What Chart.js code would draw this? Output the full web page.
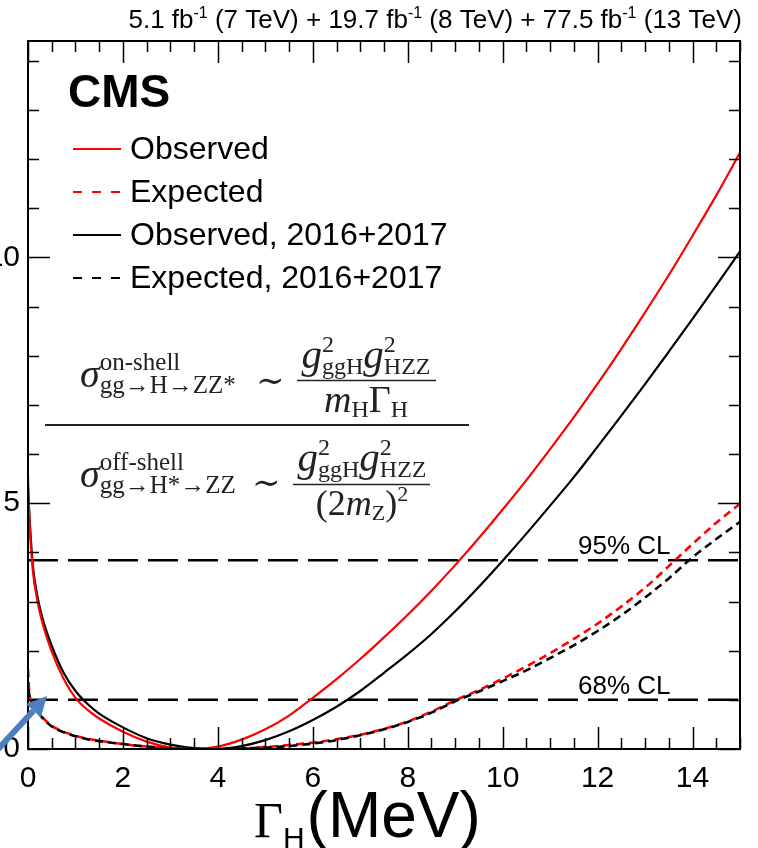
<!DOCTYPE html>
<html>
<head>
<meta charset="utf-8">
<script src="https://cdn.jsdelivr.net/npm/chart.js@4.4.1/dist/chart.umd.min.js"></script>
<style>
  html, body { margin: 0; padding: 0; background: #fff; overflow: hidden; }
  canvas { display: block; }
</style>
</head>
<body>
<canvas id="scan" width="758" height="848"></canvas>
<script>
// Higgs width scan: -2 delta lnL versus Gamma_H (MeV)
const GAMMA = [0, 0.03, 0.1, 0.2, 0.3, 0.5, 0.75, 1, 1.25, 1.5,
               2, 2.5, 3, 3.5, 4, 4.5, 5, 5.5, 6, 6.5,
               7, 7.5, 8, 8.5, 9, 9.5, 10, 10.5, 11, 11.5,
               12, 12.5, 13, 13.5, 14, 14.5, 15];

const OBSERVED = [5.55, 4.65, 3.65, 3.0, 2.58, 1.98, 1.43, 1.04, 0.80, 0.62,
                  0.35, 0.15, 0.03, 0.0, 0.05, 0.19, 0.40, 0.68, 1.04, 1.42,
                  1.83, 2.27, 2.73, 3.22, 3.74, 4.29, 4.87, 5.47, 6.10, 6.75,
                  7.43, 8.14, 8.88, 9.64, 10.44, 11.26, 12.13];

const EXPECTED = [1.62, 1.12, 0.93, 0.77, 0.65, 0.47, 0.35, 0.27, 0.21, 0.17,
                  0.10, 0.05, 0.02, 0.0, 0.0, 0.01, 0.04, 0.08, 0.13, 0.20,
                  0.29, 0.41, 0.56, 0.76, 0.99, 1.20, 1.43, 1.68, 1.95, 2.24,
                  2.55, 2.90, 3.28, 3.72, 4.17, 4.60, 4.99];

const OBSERVED_1617 = [5.3, 4.75, 3.75, 3.1, 2.68, 2.1, 1.55, 1.18, 0.92, 0.72,
                       0.44, 0.22, 0.09, 0.02, 0.005, 0.06, 0.18, 0.36, 0.59, 0.86,
                       1.18, 1.55, 1.93, 2.34, 2.80, 3.30, 3.83, 4.38, 4.95, 5.53,
                       6.15, 6.78, 7.42, 8.08, 8.75, 9.43, 10.12];

const EXPECTED_1617 = [1.35, 1.08, 0.91, 0.76, 0.64, 0.46, 0.34, 0.26, 0.20, 0.16,
                       0.10, 0.05, 0.02, 0.0, 0.0, 0.01, 0.03, 0.06, 0.11, 0.18,
                       0.28, 0.40, 0.55, 0.74, 0.97, 1.17, 1.38, 1.60, 1.85, 2.11,
                       2.40, 2.72, 3.08, 3.47, 3.90, 4.27, 4.62];

const CL_LEVELS = [1.0, 3.84];
const CL_LABELS = ['68% CL', '95% CL'];

const X_TICKS = [0, 2, 4, 6, 8, 10, 12, 14];
const Y_TICKS = [0, 5, 10];
const X_RANGE = [0, 15];
const Y_RANGE = [0, 14.4];

const SANS = '"Liberation Sans", Arial, Helvetica, sans-serif';
const SERIF = '"Liberation Serif", "Times New Roman", "DejaVu Serif", serif';

const pts = ys => GAMMA.map((g, i) => ({ x: g, y: ys[i] }));
const hline = v => [{ x: X_RANGE[0], y: v }, { x: X_RANGE[1], y: v }];

// ---- small rich-text helper (sub/superscripts) ----
function partWidth(ctx, p) {
  ctx.font = p.font;
  if (p.stack) {
    return Math.max(ctx.measureText(p.sup || '').width, ctx.measureText(p.sub || '').width) + (p.gap || 0);
  }
  return ctx.measureText(p.t).width + (p.gap || 0);
}
function richWidth(ctx, parts) {
  return parts.reduce((w, p) => w + partWidth(ctx, p), 0);
}
function drawRich(ctx, x, y, parts) {
  ctx.textAlign = 'left';
  ctx.textBaseline = 'alphabetic';
  for (const p of parts) {
    ctx.font = p.font;
    if (p.stack) {
      if (p.sup) ctx.fillText(p.sup, x, y + p.supDy);
      if (p.sub) ctx.fillText(p.sub, x, y + p.subDy);
    } else {
      ctx.fillText(p.t, x, y + (p.dy || 0));
    }
    x += partWidth(ctx, p);
  }
}

// ---- frame with inward ticks on all four sides ----
const frameTicks = {
  id: 'frameTicks',
  afterDatasetsDraw(chart) {
    const { ctx, chartArea: a, scales: { x, y } } = chart;
    ctx.save();
    ctx.strokeStyle = '#000';
    ctx.lineWidth = 1.5;
    ctx.beginPath();
    for (let k = 0; k <= 30; k++) {
      const v = k * 0.5;
      const px = Math.round(x.getPixelForValue(v)) + 0.5;
      const len = (k % 4 === 0) ? 22 : 11;
      ctx.moveTo(px, a.bottom); ctx.lineTo(px, a.bottom - len);
      ctx.moveTo(px, a.top); ctx.lineTo(px, a.top + len);
    }
    for (let v = 0; v <= 14; v++) {
      const py = Math.round(y.getPixelForValue(v)) + 0.5;
      const len = (v % 5 === 0) ? 22 : 11;
      ctx.moveTo(a.left, py); ctx.lineTo(a.left + len, py);
      ctx.moveTo(a.right, py); ctx.lineTo(a.right - len, py);
    }
    ctx.stroke();
    ctx.lineWidth = 2;
    ctx.strokeRect(a.left, a.top, a.right - a.left, a.bottom - a.top);
    ctx.restore();
  }
};

// ---- texts: CMS tag, luminosity, legend, CL labels, formula, axis title ----
const annotations = {
  id: 'annotations',
  afterDraw(chart) {
    const { ctx, scales: { y } } = chart;
    ctx.save();
    ctx.fillStyle = '#000';

    // luminosity line
    const lumi = [];
    const seg = (t) => lumi.push({ t, font: `26px ${SANS}` });
    const sup = (t) => lumi.push({ t, font: `16px ${SANS}`, dy: -10 });
    seg('5.1 fb'); sup('-1'); seg(' (7 TeV) + 19.7 fb'); sup('-1');
    seg(' (8 TeV) + 77.5 fb'); sup('-1'); seg(' (13 TeV)');
    drawRich(ctx, 742 - richWidth(ctx, lumi), 28, lumi);

    // CMS
    ctx.font = `bold 46px ${SANS}`;
    ctx.textAlign = 'left';
    ctx.textBaseline = 'alphabetic';
    ctx.fillText('CMS', 68, 107);

    // legend
    const rows = [149, 192, 235, 278];
    chart.data.datasets.slice(0, 4).forEach((ds, i) => {
      const ly = rows[i];
      ctx.strokeStyle = ds.borderColor;
      ctx.lineWidth = 2.2;
      ctx.setLineDash(ds.borderDash ? [9, 10] : []);
      ctx.beginPath();
      ctx.moveTo(73, ly); ctx.lineTo(121, ly);
      ctx.stroke();
      ctx.setLineDash([]);
      ctx.font = `32px ${SANS}`;
      ctx.fillStyle = '#000';
      ctx.textAlign = 'left';
      ctx.textBaseline = 'alphabetic';
      ctx.fillText(ds.label, 130, ly + 10);
    });

    // confidence-level labels
    ctx.font = `26px ${SANS}`;
    CL_LEVELS.forEach((v, i) => {
      ctx.fillText(CL_LABELS[i], 578, y.getPixelForValue(v) - 6);
    });

    // formula
    ctx.fillStyle = '#222';
    ctx.strokeStyle = '#222';
    const f = (s, st) => `${st || ''} ${s}px ${SERIF}`;
    const upperLeft = [
      { t: 'σ', font: f(40, 'italic') },
      { stack: true, sup: 'on-shell', sub: 'gg→H→ZZ*', font: f(25), supDy: -17, subDy: 6 }
    ];
    const lowerLeft = [
      { t: 'σ', font: f(40, 'italic') },
      { stack: true, sup: 'off-shell', sub: 'gg→H*→ZZ', font: f(25), supDy: -17, subDy: 6 }
    ];
    drawRich(ctx, 80, 387, upperLeft);
    drawRich(ctx, 80, 487, lowerLeft);
    ctx.font = f(34);
    ctx.fillText('∼', 256, 392);
    ctx.fillText('∼', 252, 494);

    const numer = [
      { t: 'g', font: f(41, 'italic') },
      { stack: true, sup: '2', sub: 'ggH', font: f(24), supDy: -16, subDy: 6 },
      { t: 'g', font: f(41, 'italic') },
      { stack: true, sup: '2', sub: 'HZZ', font: f(24), supDy: -16, subDy: 6 }
    ];
    const den1 = [
      { t: 'm', font: f(38, 'italic') },
      { t: 'H', font: f(24), dy: 5 },
      { t: 'Γ', font: f(38) },
      { t: 'H', font: f(24), dy: 5 }
    ];
    const den2 = [
      { t: '(2', font: f(36) },
      { t: 'm', font: f(36, 'italic') },
      { t: 'Z', font: f(22), dy: 5 },
      { t: ')', font: f(36) },
      { t: '2', font: f(22), dy: -14 }
    ];
    const centered = (parts, cx, by) => drawRich(ctx, cx - richWidth(ctx, parts) / 2, by, parts);
    centered(numer, 366, 368);
    centered(den1, 366, 412);
    centered(numer, 362, 471);
    centered(den2, 362, 515);
    ctx.lineWidth = 1.5;
    ctx.beginPath();
    ctx.moveTo(297, 380.5); ctx.lineTo(436, 380.5);
    ctx.moveTo(293, 484.5); ctx.lineTo(430, 484.5);
    ctx.stroke();
    ctx.lineWidth = 2;
    ctx.beginPath();
    ctx.moveTo(45, 425); ctx.lineTo(469, 425);
    ctx.stroke();

    // x-axis title: Gamma_H (MeV)
    ctx.fillStyle = '#000';
    const title = [
      { t: 'Γ', font: f(50) },
      { t: 'H', font: `30px ${SANS}`, dy: 11, gap: 2 },
      { t: '(MeV)', font: `64px ${SANS}` }
    ];
    drawRich(ctx, 254, 837, title);

    // pointer arrow near the origin
    const x0 = 0, y0 = 747, x1 = 47, y1 = 696;
    const ang = Math.atan2(y1 - y0, x1 - x0);
    const head = 20;
    const bx = x1 - head * Math.cos(ang), by = y1 - head * Math.sin(ang);
    ctx.strokeStyle = '#4d7fc0';
    ctx.fillStyle = '#4d7fc0';
    ctx.lineWidth = 6;
    ctx.beginPath();
    ctx.moveTo(x0 - 10 * Math.cos(ang), y0 - 10 * Math.sin(ang));
    ctx.lineTo(bx, by);
    ctx.stroke();
    ctx.beginPath();
    ctx.moveTo(x1, y1);
    ctx.lineTo(bx + 10 * Math.sin(ang), by - 10 * Math.cos(ang));
    ctx.lineTo(bx - 10 * Math.sin(ang), by + 10 * Math.cos(ang));
    ctx.closePath();
    ctx.fill();

    ctx.restore();
  }
};

new Chart(document.getElementById('scan'), {
  type: 'line',
  data: {
    datasets: [
      { label: 'Observed', data: pts(OBSERVED), borderColor: '#ff0000', borderWidth: 2.2, order: 1 },
      { label: 'Expected', data: pts(EXPECTED), borderColor: '#ff0000', borderWidth: 2.6, borderDash: [8, 5], order: 4 },
      { label: 'Observed, 2016+2017', data: pts(OBSERVED_1617), borderColor: '#000000', borderWidth: 2.2, order: 2 },
      { label: 'Expected, 2016+2017', data: pts(EXPECTED_1617), borderColor: '#000000', borderWidth: 2.6, borderDash: [8, 5], borderDashOffset: 6.5, order: 3 },
      { label: CL_LABELS[0], data: hline(CL_LEVELS[0]), borderColor: '#000000', borderWidth: 2.5, borderDash: [30, 10], order: 6 },
      { label: CL_LABELS[1], data: hline(CL_LEVELS[1]), borderColor: '#000000', borderWidth: 2.5, borderDash: [30, 10], order: 6 }
    ]
  },
  options: {
    responsive: false,
    animation: false,
    devicePixelRatio: 1,
    layout: { padding: { top: 41, right: 18, left: 0, bottom: 0 } },
    elements: {
      point: { radius: 0, hoverRadius: 0 },
      line: { cubicInterpolationMode: 'monotone', borderCapStyle: 'butt', fill: false }
    },
    plugins: { legend: { display: false }, tooltip: { enabled: false } },
    scales: {
      x: {
        type: 'linear', min: X_RANGE[0], max: X_RANGE[1],
        grid: { display: false, drawTicks: false },
        border: { display: false },
        afterBuildTicks: s => { s.ticks = X_TICKS.map(v => ({ value: v })); },
        afterFit: s => { s.height = 99; },
        ticks: { font: { family: SANS, size: 30 }, color: '#000', padding: 12, maxRotation: 0, autoSkip: false }
      },
      y: {
        type: 'linear', min: Y_RANGE[0], max: Y_RANGE[1],
        grid: { display: false, drawTicks: false },
        border: { display: false },
        afterBuildTicks: s => { s.ticks = Y_TICKS.map(v => ({ value: v })); },
        afterFit: s => { s.width = 28; },
        ticks: { font: { family: SANS, size: 30 }, color: '#000', padding: 8, autoSkip: false }
      }
    }
  },
  plugins: [frameTicks, annotations]
});
</script>
</body>
</html>
